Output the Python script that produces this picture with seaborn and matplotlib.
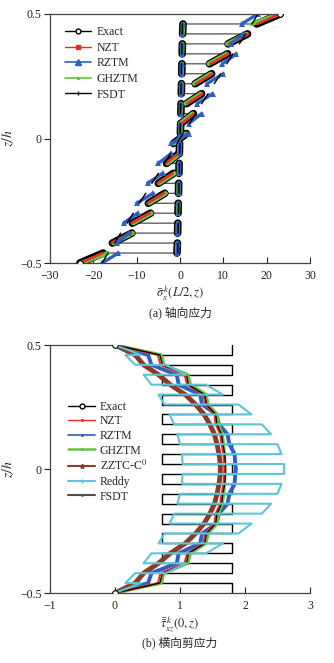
import numpy as np
import pandas as pd
import matplotlib
matplotlib.use("Agg")
import matplotlib.pyplot as plt
import seaborn as sns
from matplotlib.lines import Line2D

sns.set_theme(style="white")
plt.rcParams["font.family"] = ["Liberation Serif", "Noto Sans CJK SC", "DejaVu Sans"]
plt.rcParams["mathtext.fontset"] = "stix"
plt.rcParams["font.size"] = 8
plt.rcParams["axes.unicode_minus"] = True

# ---------------- laminate geometry: 25 layers [0/90/0/.../0] ----------------
n_layers = 25
z_if = np.linspace(0.5, -0.5, n_layers + 1)   # layer interfaces, top -> bottom

# ---------------- (a) axial stress, upper 12 layers + centre layer -------------
# values at [top, bottom] of each layer, listed from z=0.5 downwards
sx_exact_top = [23.1, 0.70, 15.6, 0.55, 11.0, 0.45, 7.3, 0.35, 5.0, 0.25, 3.1, 0.15, 1.5]
sx_exact_bot = [17.7, 0.60, 11.1, 0.50, 6.8, 0.40, 3.5, 0.30, 1.5, 0.20, 0.2, 0.10, -1.5]
sx_nzt_top = [23.0, 0.70, 15.8, 0.55, 11.2, 0.45, 7.5, 0.35, 5.2, 0.25, 3.3, 0.15, 1.6]
sx_nzt_bot = [17.9, 0.60, 11.3, 0.50, 7.0, 0.40, 3.7, 0.30, 1.7, 0.20, 0.4, 0.10, -1.6]
sx_rztm_top = [18.0, 0.60, 14.5, 0.50, 13.0, 0.40, 10.0, 0.30, 7.5, 0.20, 5.0, 0.10, 2.0]
sx_rztm_bot = [14.2, 0.55, 11.8, 0.45, 9.8, 0.35, 6.2, 0.25, 4.0, 0.15, 2.0, 0.05, -2.0]
sx_ghztm_top = [22.8, 0.70, 15.4, 0.55, 10.8, 0.45, 7.1, 0.35, 4.8, 0.25, 2.9, 0.15, 1.4]
sx_ghztm_bot = [16.6, 0.60, 10.9, 0.50, 6.6, 0.40, 3.3, 0.30, 1.3, 0.20, 0.0, 0.10, -1.4]
sx_fsdt_top = [18.0, 0.55, 15.1, 0.45, 12.2, 0.35, 9.4, 0.25, 6.5, 0.15, 3.6, 0.05, 0.7]
sx_fsdt_bot = [16.6, 0.50, 13.7, 0.40, 10.8, 0.30, 7.9, 0.20, 5.0, 0.10, 2.2, 0.02, -0.7]

# ---------------- (b) transverse shear stress ---------------------------------
# continuous curves, values at interfaces from z=0.5 down to the mid-plane (z=0)
tz_exact = [0.00, 0.69, 0.73, 1.10, 1.13, 1.38, 1.41, 1.55, 1.57, 1.64, 1.66, 1.69, 1.70, 1.70]
tz_nzt = [0.00, 0.66, 0.70, 1.07, 1.11, 1.36, 1.39, 1.53, 1.55, 1.62, 1.64, 1.67, 1.68, 1.69]
tz_rztm = [0.00, 0.51, 0.56, 0.95, 0.98, 1.31, 1.34, 1.56, 1.60, 1.73, 1.76, 1.84, 1.85, 1.86]
tz_ghztm = [0.00, 0.71, 0.75, 1.12, 1.16, 1.40, 1.43, 1.57, 1.59, 1.65, 1.67, 1.68, 1.69, 1.69]
tz_zztc = [0.00, 0.31, 0.44, 0.67, 0.85, 1.08, 1.24, 1.37, 1.46, 1.53, 1.57, 1.60, 1.62, 1.62]
# layer-wise curves: [top, bottom] of upper 12 layers + centre layer
tz_reddy_top = [0.00, 0.16, 0.77, 0.44, 1.40, 0.67, 1.90, 0.84, 2.26, 0.96, 2.50, 1.03, 2.60]
tz_reddy_bot = [0.40, 0.31, 1.10, 0.56, 1.66, 0.76, 2.10, 0.91, 2.40, 1.00, 2.56, 1.04, 2.60]
tz_fsdt_top = [1.80, 0.72, 1.80, 0.72, 1.80, 0.72, 1.80, 0.72, 1.80, 0.72, 1.80, 0.72, 1.80]
tz_fsdt_bot = [1.80, 0.72, 1.80, 0.72, 1.80, 0.72, 1.80, 0.72, 1.80, 0.72, 1.80, 0.72, 1.80]

C_RED = "#f02a2a"
C_BLUE = "#2d5fc4"
C_GREEN = "#66c43a"
C_BROWN = "#8c3a28"
C_CYAN = "#5cc6d6"
C_GRAY = "#505050"


def layered(top, bot, sign):
    """Full 25-layer profile from the upper half (sign=-1: antisymmetric, +1: symmetric)."""
    tops = list(top) + [sign * b for b in bot[:12][::-1]]
    bots = list(bot) + [sign * t for t in top[:12][::-1]]
    rows = []
    for k in range(n_layers):
        rows.append((tops[k], z_if[k], k))
        rows.append((bots[k], z_if[k + 1], k))
    return pd.DataFrame(rows, columns=["val", "z", "layer"])


def continuous(vals):
    zu = list(z_if[:13]) + [0.0]
    z = zu + [-v for v in zu[:-1][::-1]]
    v = list(vals) + list(vals[:-1][::-1])
    return pd.DataFrame({"val": v, "z": z})


fig = plt.figure(figsize=(3.34, 6.63), dpi=100)
ax1 = fig.add_axes([50 / 334, 1 - 263 / 663, 260 / 334, 249 / 663])
ax2 = fig.add_axes([50 / 334, 1 - 593 / 663, 260 / 334, 248 / 663])

# ---------------------------- panel (a) --------------------------------------
df_ex = layered(sx_exact_top, sx_exact_bot, -1)
sns.lineplot(data=df_ex, x="val", y="z", sort=False, estimator=None, ax=ax1,
             color=C_GRAY, lw=0.9)
sns.lineplot(data=df_ex, x="val", y="z", units="layer", sort=False, estimator=None,
             ax=ax1, color="black", lw=5.5, solid_capstyle="round")
sns.lineplot(data=layered(sx_ghztm_top, sx_ghztm_bot, -1), x="val", y="z", units="layer",
             sort=False, estimator=None, ax=ax1, color=C_GREEN, lw=3.2, solid_capstyle="round")
sns.lineplot(data=layered(sx_nzt_top, sx_nzt_bot, -1), x="val", y="z", units="layer",
             sort=False, estimator=None, ax=ax1, color=C_RED, lw=1.8, solid_capstyle="round")
sns.lineplot(data=layered(sx_rztm_top, sx_rztm_bot, -1), x="val", y="z", units="layer",
             sort=False, estimator=None, ax=ax1, color=C_BLUE, lw=2.4,
             marker="^", markersize=4, markeredgewidth=0)
sns.lineplot(data=layered(sx_fsdt_top, sx_fsdt_bot, -1), x="val", y="z", units="layer",
             sort=False, estimator=None, ax=ax1, color="black", lw=1.0)
ends = df_ex.iloc[[0, -1]]
ax1.plot(ends["val"], ends["z"], "o", ms=4, mfc="white", mec="black", mew=0.8, zorder=5)

ax1.set_xlim(-30, 30)
ax1.set_ylim(-0.5, 0.5)
ax1.set_xticks([-30, -20, -10, 0, 10, 20, 30])
ax1.set_yticks([-0.5, 0, 0.5])
ax1.set_yticklabels(["−0.5", "0", "0.5"])
ax1.spines["top"].set_bounds(-30, sx_exact_top[0])

# ---------------------------- panel (b) --------------------------------------
sns.lineplot(data=layered(tz_fsdt_top, tz_fsdt_bot, 1), x="val", y="z", sort=False,
             estimator=None, ax=ax2, color="black", lw=1.0)
sns.lineplot(data=continuous(tz_zztc), x="val", y="z", sort=False, estimator=None,
             ax=ax2, color=C_BROWN, lw=3.5)
sns.lineplot(data=continuous(tz_rztm), x="val", y="z", sort=False, estimator=None,
             ax=ax2, color=C_BLUE, lw=2.8)
sns.lineplot(data=continuous(tz_ghztm), x="val", y="z", sort=False, estimator=None,
             ax=ax2, color=C_GREEN, lw=2.4)
sns.lineplot(data=continuous(tz_nzt), x="val", y="z", sort=False, estimator=None,
             ax=ax2, color=C_RED, lw=1.5)
df_tex = continuous(tz_exact)
sns.lineplot(data=df_tex, x="val", y="z", sort=False, estimator=None,
             ax=ax2, color="black", lw=0.9)
sns.lineplot(data=layered(tz_reddy_top, tz_reddy_bot, 1), x="val", y="z", sort=False,
             estimator=None, ax=ax2, color=C_CYAN, lw=1.5)
ends2 = df_tex.iloc[[0, -1]]
ax2.plot(ends2["val"], ends2["z"], "o", ms=4, mfc="white", mec="black", mew=0.8, zorder=5)

ax2.set_xlim(-1, 3)
ax2.set_ylim(-0.5, 0.5)
ax2.set_xticks([-1, 0, 1, 2, 3])
ax2.set_yticks([-0.5, 0, 0.5])
ax2.set_yticklabels(["−0.5", "0", "0.5"])
ax2.spines["top"].set_bounds(-1, tz_exact[0])

for ax in (ax1, ax2):
    ax.set_xlabel("")
    ax.spines["right"].set_visible(False)
    for s in ("left", "bottom", "top"):
        ax.spines[s].set_color("#444444")
        ax.spines[s].set_linewidth(0.9)
    ax.tick_params(axis="x", direction="in", length=4, width=0.8, pad=5,
                   labelsize=8.5, colors="#222222", bottom=True)
    ax.tick_params(axis="y", direction="out", length=4, width=0.8, pad=2,
                   labelsize=8.5, colors="#222222", left=True)
    ax.set_ylabel(r"$z/h$", fontsize=10, labelpad=3)

# legends
h1 = [
    Line2D([], [], color="black", lw=1, marker="o", ms=3.5, mfc="white", mec="black"),
    Line2D([], [], color=C_RED, lw=1, marker="s", ms=3),
    Line2D([], [], color=C_BLUE, lw=1.2, marker="^", ms=4),
    Line2D([], [], color=C_GREEN, lw=1.2, marker=".", ms=3),
    Line2D([], [], color="black", lw=1, marker="|", ms=3),
]
ax1.legend(h1, ["Exact", "NZT", "RZTM", "GHZTM", "FSDT"], loc="upper left",
           bbox_to_anchor=(0.055, 0.955), frameon=False, fontsize=8.5,
           handlelength=2.2, handletextpad=0.4, labelspacing=0.3, borderpad=0.1,
           borderaxespad=0)
h2 = [
    Line2D([], [], color="black", lw=1, marker="o", ms=3.5, mfc="white", mec="black"),
    Line2D([], [], color=C_RED, lw=1, marker=".", ms=2.5),
    Line2D([], [], color=C_BLUE, lw=1.2, marker=".", ms=2.5),
    Line2D([], [], color=C_GREEN, lw=1.8, marker=".", ms=2.5),
    Line2D([], [], color=C_BROWN, lw=1.5, marker="*", ms=3.5),
    Line2D([], [], color=C_CYAN, lw=1.5, marker="+", ms=3),
    Line2D([], [], color=C_GRAY, lw=1.5, marker=".", ms=2),
]
ax2.legend(h2, ["Exact", "NZT", "RZTM", "GHZTM", r"ZZTC-C$^0$", "Reddy", "FSDT"],
           loc="upper left", bbox_to_anchor=(0.065, 0.78), frameon=False, fontsize=8.5,
           handlelength=2.3, handletextpad=0.4, labelspacing=0.22, borderpad=0.1,
           borderaxespad=0)

# axis titles and captions
fig.text(180 / 334, 1 - 293 / 663, r"$\bar{\sigma}_x^{\,k}(L/2,z)$", ha="center",
         va="center", fontsize=9)
fig.text(180 / 334, 1 - 313 / 663, "(a) 轴向应力", ha="center", va="center", fontsize=8.5)
fig.text(180 / 334, 1 - 624 / 663, r"$\bar{\bar{\tau}}_{xz}^{\,k}(0,z)$", ha="center",
         va="center", fontsize=9)
fig.text(180 / 334, 1 - 643 / 663, "(b) 横向剪应力", ha="center", va="center", fontsize=8.5)

fig.savefig("out.png", dpi=100)
